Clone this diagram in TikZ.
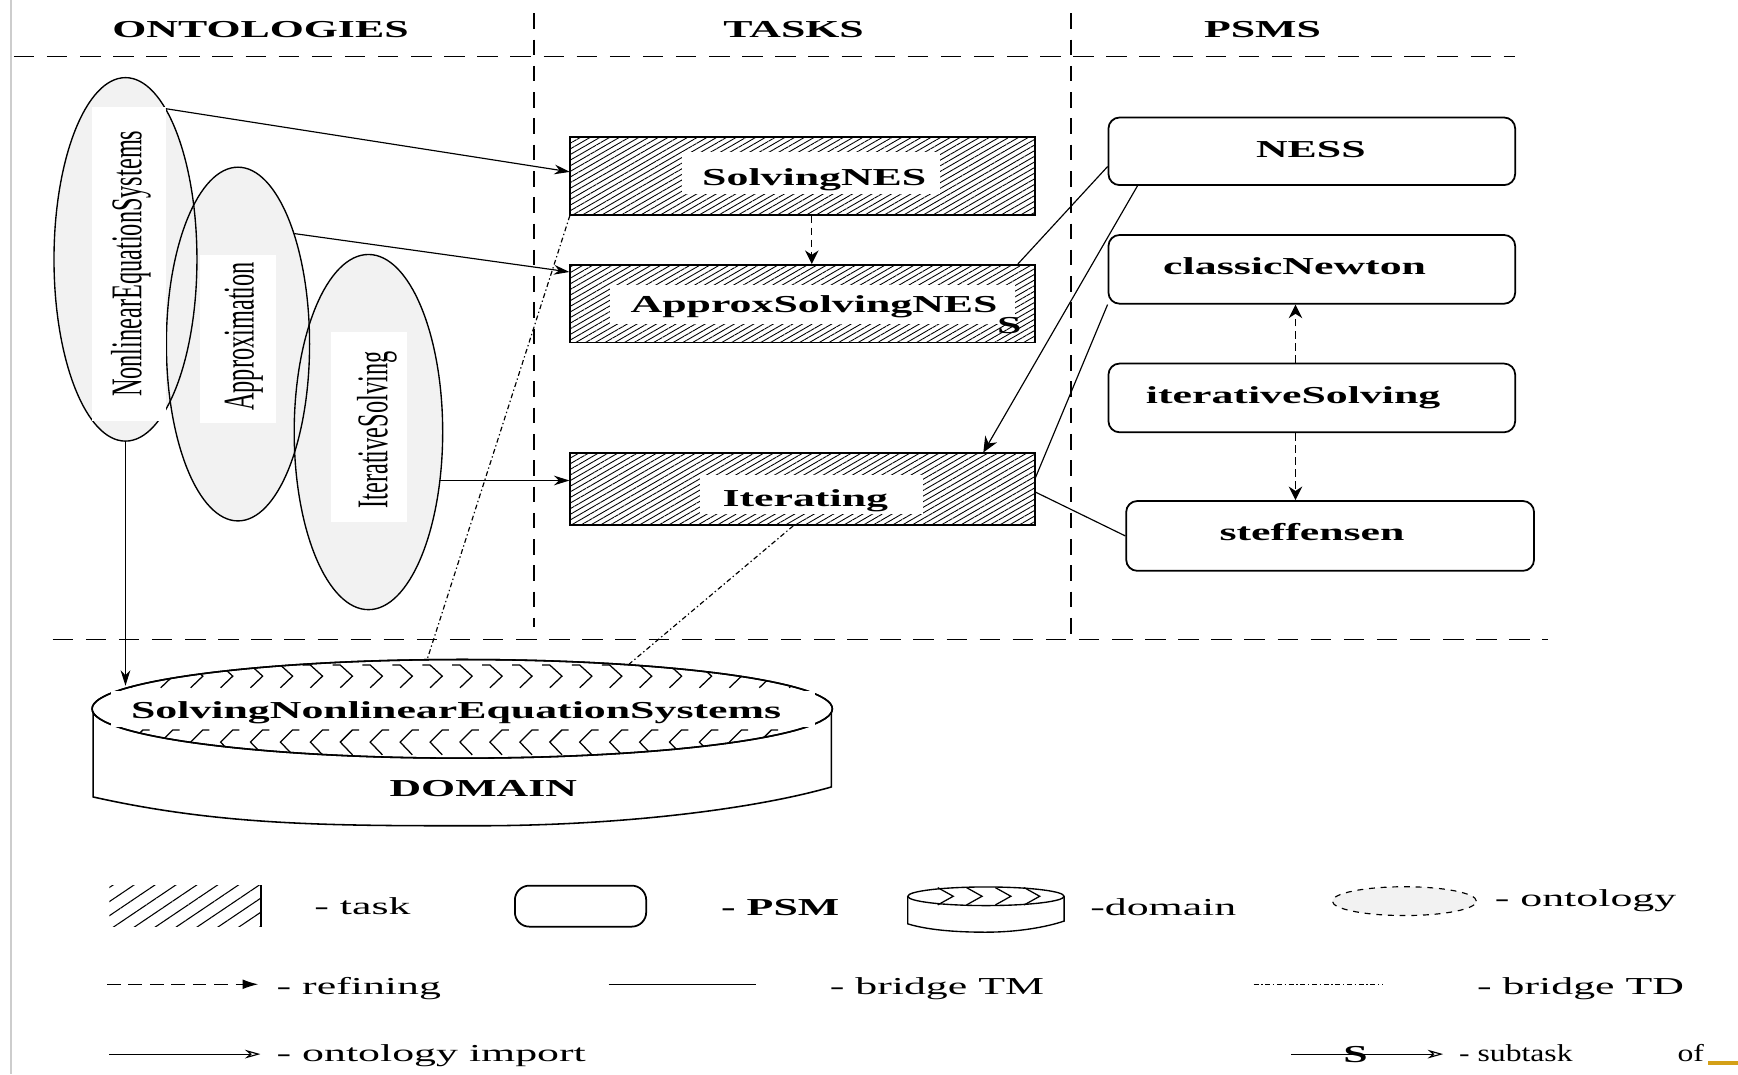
\documentclass[tikz,border=0pt]{standalone}
\usepackage{fontspec}
\setmainfont{Liberation Serif}
\usetikzlibrary{shapes.geometric,patterns.meta,arrows.meta,calc}

\definecolor{ontofill}{RGB}{242,242,242}
\definecolor{sidebar}{RGB}{205,205,205}
\definecolor{accent}{RGB}{212,160,23}
\newcommand\labelsize{\fontsize{12.5}{15}\selectfont}

\tikzset{
  wide/.style={xscale=1.8, inner sep=0pt},
  hdr/.style={wide, font=\labelsize\bfseries, anchor=base},
  legtext/.style={wide, font=\labelsize, anchor=base west},
  narrowtext/.style={xscale=1.3, inner sep=0pt, font=\labelsize, anchor=base west},
  rotlabel/.style={xscale=1.8, rotate=90, inner sep=0pt, font=\labelsize},
  hdash/.style={line width=0.9pt, dash pattern=on 10.5pt off 6.5pt},
  vdash/.style={line width=0.9pt, dash pattern=on 8pt off 5.5pt},
  onto/.style={ellipse, fill=ontofill, inner sep=0pt},
  taskbox/.style={draw, line width=0.9pt, inner sep=0pt, minimum width=8.38cm,
    pattern={Lines[angle=30,distance=2.5pt,line width=0.45pt]}},
  psmbox/.style={draw, line width=0.9pt, fill=white, rounded corners=0.2cm,
    inner sep=0pt, minimum width=7.34cm},
  import/.style={line width=0.6pt, -{Stealth[length=8pt,width=5pt]}},
  refine/.style={line width=0.7pt, dash pattern=on 4pt off 2.2pt,
    -{Stealth[length=7pt,width=7pt]}},
  psmlink/.style={line width=0.6pt, -{Stealth[length=8pt,width=7pt]}},
  bridgetm/.style={line width=0.6pt},
  bridgetd/.style={line width=0.6pt, dash pattern=on 2.5pt off 1.4pt on 0.7pt off 1.4pt},
  openhead/.style={line width=0.6pt, -{Stealth[open,length=8pt,width=4.5pt]}},
  chev/.style={line width=0.65pt, line join=miter},
}

\begin{document}
\begin{tikzpicture}[x=0.02cm, y=-0.02cm]
\useasboundingbox (0,0) rectangle (1568,969);
\fill[white] (0,0) rectangle (1568,969);

% thin side rule
\coordinate (sbt) at (10,0);
\coordinate (sbb) at (10,969);
\draw[sidebar, line width=1.2pt] (sbt) -- (sbb);

% column headers and separators
\node[hdr] (hOnt) at (235,34) {ONTOLOGIES};
\node[hdr] (hTask) at (716,34) {TASKS};
\node[hdr] (hPsm) at (1139,34) {PSMS};

\coordinate (hl1) at (12.5,51);  \coordinate (hr1) at (1367,51);
\coordinate (hl2) at (47.5,577); \coordinate (hr2) at (1397,577);
\coordinate (v1t) at (482,12);   \coordinate (v1b) at (482,566);
\coordinate (v2t) at (966,12);   \coordinate (v2b) at (966,577);
\draw[hdash] (hl1) -- (hr1);
\draw[hdash] (hl2) -- (hr2);
\draw[vdash] (v1t) -- (v1b);
\draw[vdash] (v2t) -- (v2b);

% ontologies
\node[onto, minimum width=2.58cm, minimum height=6.56cm] (ell1) at (113.2,234) {};
\node[onto, minimum width=2.584cm, minimum height=6.384cm] (ell2) at (214.7,310.4) {};
\node[onto, minimum width=2.68cm, minimum height=6.41cm] (ell3) at (332.4,389.8) {};
\draw[line width=0.7pt] (ell1.center) ellipse [x radius=1.29cm, y radius=3.28cm];
\draw[line width=0.7pt] (ell2.center) ellipse [x radius=1.292cm, y radius=3.192cm];
\draw[line width=0.7pt] (ell3.center) ellipse [x radius=1.34cm, y radius=3.205cm];
\fill[white] (82.6,96.4) rectangle (150,379.7);
\fill[white] (180,230) rectangle (249,381.5);
\fill[white] (299,299.8) rectangle (367,471);
\node[rotlabel] (t1) at (118,238) {NonlinearEquationSystems};
\node[rotlabel] (t2) at (220,303.5) {Approximation};
\node[rotlabel] (t3) at (340,388) {IterativeSolving};

% tasks
\node[taskbox, minimum height=1.414cm] (snes) at (724,158.65) {};
\node[taskbox, minimum height=1.4cm] (asn) at (724,274) {};
\node[taskbox, minimum height=1.294cm] (iter) at (724,441.35) {};
\fill[white] (615,137) rectangle (848,175);
\fill[white] (550,257) rectangle (916,292);
\fill[white] (631.5,428.5) rectangle (833,464);
\node[hdr] (snesl) at (734.6,167.8) {SolvingNES};
\node[hdr] (asnl) at (734.5,282) {ApproxSolvingNES};
\node[hdr] (iterl) at (726.5,457) {Iterating};
\node[hdr] (subS) at (910.5,300.7) {S};

% problem-solving methods
\node[psmbox, minimum height=1.22cm] (ness) at (1183.5,136.5) {};
\node[psmbox, minimum height=1.24cm] (cn) at (1183.5,243) {};
\node[psmbox, minimum height=1.24cm] (its) at (1183.5,359) {};
\node[psmbox, minimum width=7.36cm, minimum height=1.26cm] (steff) at (1200,483.5) {};
\node[hdr] (nessl) at (1182.6,142) {NESS};
\node[hdr] (cnl) at (1168,248) {classicNewton};
\node[hdr] (itsl) at (1166.6,364) {iterativeSolving};
\node[hdr] (steffl) at (1183.7,488) {steffensen};

% domain
\draw[line width=0.8pt, fill=white] (84,640) -- (84,719)
  .. controls (200,745) and (300,745) .. (430,745)
  .. controls (560,745) and (680,730) .. (750,710) -- (750,640);
\node[ellipse, draw, line width=0.8pt, fill=white, inner sep=0pt,
  minimum width=13.36cm, minimum height=1.78cm] (dom) at (417,639.5) {};
\begin{scope}
  \clip (dom.center) ellipse [x radius=6.68cm, y radius=0.89cm];
  \foreach \x in {63,90,...,766} {
    \draw[chev] (\x-6,600) -- (\x+1,600) -- (\x+12,610) -- (\x+1,620.5);
    \draw[chev] (\x+18,658.5) -- (\x+12,658.5) -- (\x+1,669.5) -- (\x+12,681);
  }
\end{scope}
\draw[line width=0.8pt] (dom.center) ellipse [x radius=6.68cm, y radius=0.89cm];
\fill[white] (100,623) rectangle (735,656);
\node[hdr] (domt) at (411.5,648) {SolvingNonlinearEquationSystems};
\node[hdr] (doml) at (436,719) {DOMAIN};

% ontology imports
\draw[import] (ell1.75) -- ($(snes.north west)!0.45!(snes.south west)$);
\draw[import] (ell2.63) -- ($(asn.north west)!0.1!(asn.south west)$);
\draw[import] (ell3.-34) -- (ell3.-34 -| iter.west);
\draw[import] (ell1.south) -- (ell1.south |- dom.176.5);

% refinements
\coordinate (rTask) at ($(snes.south west)!0.52!(snes.south east)$);
\draw[refine] (rTask) -- (rTask |- asn.north);
\coordinate (rPsm) at ($(its.north west)!0.46!(its.north east)$);
\draw[refine] (rPsm) -- (rPsm |- cn.south);
\draw[refine] (rPsm |- its.south) -- (rPsm |- steff.north);
\draw[psmlink] ($(ness.south west)!0.073!(ness.south east)$) --
  ($(iter.north west)!0.888!(iter.north east)$);

% task-method bridges
\draw[bridgetm] ($(ness.north west)!0.72!(ness.south west)$) --
  ($(asn.north west)!0.962!(asn.north east)$);
\draw[bridgetm] (cn.south west) -- ($(iter.north east)!0.34!(iter.south east)$);
\draw[bridgetm] ($(iter.north east)!0.54!(iter.south east)$) -- (steff.west);

% task-domain bridges
\draw[bridgetd] (snes.south west) -- (dom.125);
\draw[bridgetd] ($(iter.south west)!0.48!(iter.south east)$) -- (dom.15);

% legend, first row
\node[inner sep=0pt, minimum width=2.728cm, minimum height=0.74cm,
  pattern={Lines[angle=34,distance=6pt,line width=0.55pt]}] (legtask) at (166.8,817.5) {};
\draw[line width=0.8pt] (legtask.north east) -- (legtask.south east);
\node[legtext] (legtaskt) at (283,825) {- task};
\node[psmbox, minimum width=2.37cm, minimum height=0.74cm, rounded corners=0.26cm]
  (legpsm) at (523.75,817.5) {};
\node[legtext, font=\labelsize\bfseries] (legpsmt) at (650,826) {- PSM};
\draw[line width=0.7pt, fill=white] (819,808.6) -- (819,833.5)
  .. controls (840,840) and (870,841) .. (889,841)
  .. controls (920,841) and (945,836) .. (960,831) -- (960,808.6);
\node[ellipse, draw, line width=0.7pt, fill=white, inner sep=0pt,
  minimum width=2.82cm, minimum height=0.336cm] (legdom) at (889.5,808.6) {};
\foreach \x in {846,872,898,924} {
  \draw[chev] (\x,800.8) -- (\x+14,808.6) -- (\x,816.4);
}
\node[legtext] (legdomt) at (983,826) {-domain};
\node[ellipse, draw, dashed, line width=0.6pt, fill=ontofill, inner sep=0pt,
  minimum width=2.6cm, minimum height=0.52cm] (legonto) at (1267,813) {};
\node[legtext] (legontot) at (1348,818) {- ontology};

% legend, second row
\coordinate (rf1) at (96.6,888);  \coordinate (rf2) at (233,888);
\draw[line width=0.7pt, dash pattern=on 7pt off 4pt,
  -{Latex[length=8pt,width=5pt]}] (rf1) -- (rf2);
\node[legtext] (legreft) at (249,897) {- refining};
\coordinate (tm1) at (549,888);   \coordinate (tm2) at (682,888);
\draw[bridgetm] (tm1) -- (tm2);
\node[legtext] (legtmt) at (748,897) {- bridge TM};
\coordinate (td1) at (1131,888);  \coordinate (td2) at (1248,888);
\draw[bridgetd] (td1) -- (td2);
\node[legtext] (legtdt) at (1332,897) {- bridge TD};

% legend, third row
\coordinate (oi1) at (98.6,951);  \coordinate (oi2) at (235,951);
\draw[openhead] (oi1) -- (oi2);
\node[legtext] (legimpt) at (249,958) {- ontology import};
\coordinate (st1) at (1165,951);  \coordinate (st2) at (1302,951);
\draw[openhead] (st1) -- (st2);
\node[hdr] (legS) at (1223,959) {S};
\node[narrowtext] (legsubt) at (1316,958) {- subtask};
\node[narrowtext] (legoft) at (1513,958) {of};
\fill[accent] (1541,957.5) rectangle (1568,961);
\end{tikzpicture}
\end{document}
